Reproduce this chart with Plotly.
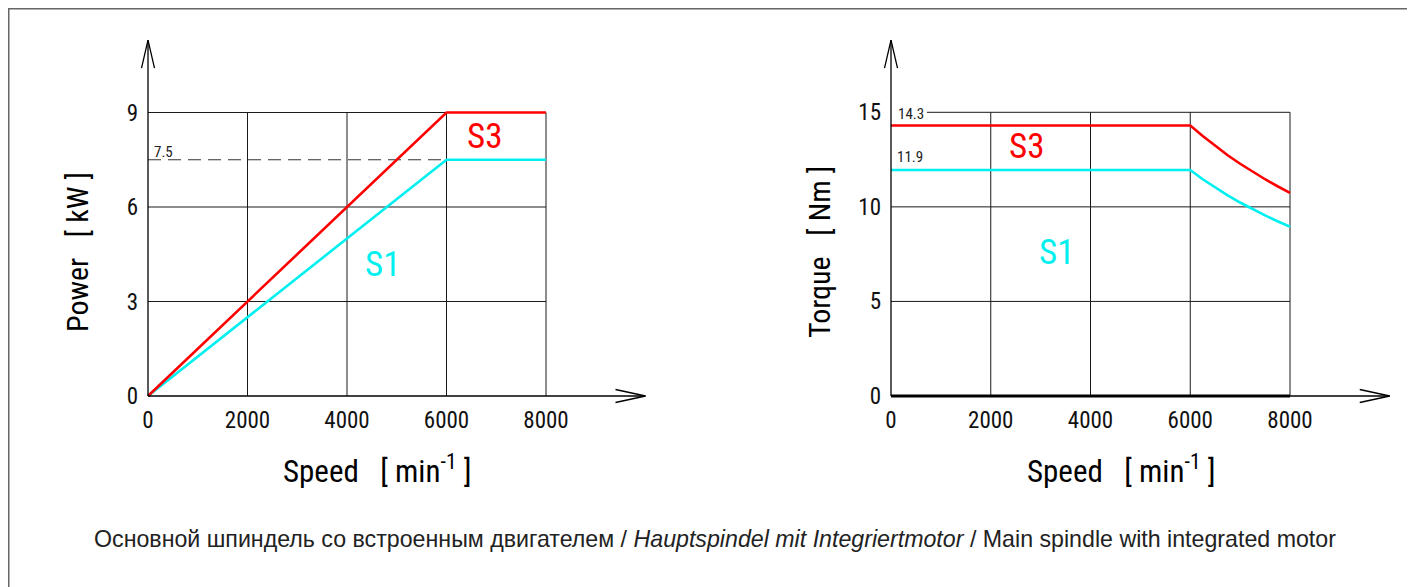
import plotly.graph_objects as go

# ---------------- data ----------------
speed_ticks = [0, 2000, 4000, 6000, 8000]
speed_ticklabels = ["0", "2000", "4000", "6000", "8000"]
speed_arrow = 10000
power_ticks = [0, 3, 6, 9]
power_ticklabels = ["0", "3", "6", "9"]
torque_ticks = [0, 5, 10, 15]
torque_ticklabels = ["0", "5", "10", "15"]

power_speed = [0, 6000, 8000]
power_s3 = [0, 9.0, 9.0]
power_s1 = [0, 7.5, 7.5]
power_s1_rated = 7.5

torque_speed = [0, 6000, 6250, 6500, 6750, 7000, 7250, 7500, 7750, 8000]
torque_s3 = [14.3, 14.3, 13.75, 13.22, 12.73, 12.28, 11.85, 11.46, 11.09, 10.74]
torque_s1 = [11.95, 11.95, 11.46, 11.02, 10.61, 10.23, 9.88, 9.55, 9.24, 8.95]
torque_s3_label = "14.3"
torque_s1_label = "11.9"

caption = ("Основной шпиндель со встроенным двигателем / "
           "<i>Hauptspindel mit Integriertmotor</i> / Main spindle with integrated motor")

# ---------------- style / geometry ----------------
W, H = 1415, 587
OFF = 8  # page offset of the figure inside the browser window
NARROW = "Roboto Condensed, DejaVu Sans Condensed, sans-serif"
REG = "Liberation Sans, Arial, sans-serif"
RED = "#ff0000"
CYAN = "#00f0f0"
GRID = "#1a1a1a"

# screen-pixel mapping of each chart
LEFT = dict(x0=148, kx=398 / 8000, y0=396, ky=283.5 / 9, ytip=11.30)
RIGHT = dict(x0=891, kx=399 / 8000, y0=396, ky=283.7 / 15, ytip=18.82)
BOX_L, BOX_R, BOX_T, BOX_B = 8, 7, 38, 404


def px(x):
    return (x - OFF) / W


def py(y):
    return 1 - (y - OFF) / H


def axes_for(m):
    px_left = m["x0"] - BOX_L
    px_right = m["x0"] + speed_arrow * m["kx"] + BOX_R
    xr = [(px_left - m["x0"]) / m["kx"], (px_right - m["x0"]) / m["kx"]]
    yr = [(m["y0"] - BOX_B) / m["ky"], (m["y0"] - BOX_T) / m["ky"]]
    return [px(px_left), px(px_right)], xr, yr


dxl, xrl, yrl = axes_for(LEFT)
dxr, xrr, yrr = axes_for(RIGHT)
ydom = [py(BOX_B), py(BOX_T)]

fig = go.Figure()
for xa, ya, xs, s1, s3 in (("x", "y", power_speed, power_s1, power_s3),
                           ("x2", "y2", torque_speed, torque_s1, torque_s3)):
    fig.add_trace(go.Scatter(x=xs, y=s1, mode="lines", line=dict(color=CYAN, width=2.6),
                             xaxis=xa, yaxis=ya, showlegend=False, hoverinfo="skip"))
    fig.add_trace(go.Scatter(x=xs, y=s3, mode="lines", line=dict(color=RED, width=2.6),
                             xaxis=xa, yaxis=ya, showlegend=False, hoverinfo="skip"))

shapes = []
for xv in speed_ticks[1:]:
    shapes.append(dict(type="line", xref="x", yref="y", x0=xv, x1=xv, y0=0, y1=power_ticks[-1],
                       line=dict(color=GRID, width=1), layer="below"))
    shapes.append(dict(type="line", xref="x2", yref="y2", x0=xv, x1=xv, y0=0, y1=torque_ticks[-1],
                       line=dict(color=GRID, width=1), layer="below"))
for yv in power_ticks[1:]:
    shapes.append(dict(type="line", xref="x", yref="y", x0=0, x1=speed_ticks[-1], y0=yv, y1=yv,
                       line=dict(color=GRID, width=1), layer="below"))
for yv in torque_ticks[1:]:
    x_start = 720 if yv == torque_ticks[-1] else 0
    shapes.append(dict(type="line", xref="x2", yref="y2", x0=x_start, x1=speed_ticks[-1], y0=yv, y1=yv,
                       line=dict(color=GRID, width=1), layer="below"))
shapes.append(dict(type="line", xref="x", yref="y", x0=0, x1=power_speed[1], y0=power_s1_rated,
                   y1=power_s1_rated, line=dict(color="#333333", width=1, dash="13px,7px"), layer="below"))
shapes.append(dict(type="line", xref="x2", yref="y2", x0=0, x1=speed_ticks[-1], y0=0, y1=0,
                   line=dict(color="black", width=3.2)))
for xr, yr, ytop in (("x", "y", LEFT["ytip"]), ("x2", "y2", RIGHT["ytip"])):
    shapes.append(dict(type="line", xref=xr, yref=yr, x0=0, x1=speed_arrow, y0=0, y1=0,
                       line=dict(color="black", width=1.3)))
    shapes.append(dict(type="line", xref=xr, yref=yr, x0=0, x1=0, y0=0, y1=ytop,
                       line=dict(color="black", width=1.3)))
    shapes.append(dict(type="path", xref=xr, yref=yr, xsizemode="pixel", ysizemode="pixel",
                       xanchor=speed_arrow, yanchor=0, path="M -30,6.5 L 0,0 L -30,-6.5",
                       line=dict(color="black", width=1.3)))
    shapes.append(dict(type="path", xref=xr, yref=yr, xsizemode="pixel", ysizemode="pixel",
                       xanchor=0, yanchor=ytop, path="M -6.5,-28 L 0,0 L 6.5,-28",
                       line=dict(color="black", width=1.3)))
# outer frame (left and top edges)
shapes.append(dict(type="path", xref="paper", yref="paper",
                   path=f"M {px(8.5)},0 L {px(8.5)},{py(8.5)} L 1,{py(8.5)}",
                   line=dict(color="#666666", width=2)))

ann = []


def txt(text, x, y, xref, yref, size, color="black", family=NARROW, angle=0):
    ann.append(dict(text=text, x=x, y=y, xref=xref, yref=yref, showarrow=False,
                    font=dict(size=size, color=color, family=family), textangle=angle,
                    xanchor="center", yanchor="middle"))


txt("7.5", 318, 7.76, "x", "y", 15, "#222222")
txt(torque_s3_label, 395, 14.91, "x2", "y2", 15, "#222222")
txt(torque_s1_label, 380, 12.65, "x2", "y2", 15, "#222222")
txt("S3", 6754, 8.25, "x", "y", 35, RED)
txt("S1", 4704, 4.16, "x", "y", 35, CYAN)
txt("S3", 2707, 13.17, "x2", "y2", 35, RED)
txt("S1", 3328, 7.61, "x2", "y2", 35, CYAN)

NB = "\u00a0"
txt(f"Power{NB*3}[ kW ]", px(77), py(252), "paper", "paper", 30, angle=-90)
txt(f"Torque{NB*3}[ Nm ]", px(819), py(252), "paper", "paper", 30, angle=-90)
spd = f"Speed{NB*3}[ min<sup>-1</sup> ]"
txt(spd, px(377), py(469), "paper", "paper", 31)
txt(spd, px(1121), py(469), "paper", "paper", 31)
txt(caption, px(715), py(539), "paper", "paper", 23.2, "#222222", family=REG)

axis_common = dict(showgrid=False, zeroline=False, showline=False, ticks="", fixedrange=True,
                   automargin=False, tickfont=dict(family=NARROW, size=23, color="#111111"))

fig.update_layout(
    template="none",
    width=W, height=H, margin=dict(l=0, r=0, t=0, b=0, pad=0),
    paper_bgcolor="white", plot_bgcolor="white", showlegend=False,
    xaxis=dict(domain=dxl, range=xrl, anchor="y", tickvals=speed_ticks, ticktext=speed_ticklabels,
               ticklabelstandoff=0, **axis_common),
    yaxis=dict(domain=ydom, range=yrl, anchor="x", tickvals=power_ticks, ticktext=power_ticklabels,
               ticklabelstandoff=1, **axis_common),
    xaxis2=dict(domain=dxr, range=xrr, anchor="y2", tickvals=speed_ticks, ticktext=speed_ticklabels,
                ticklabelstandoff=0, **axis_common),
    yaxis2=dict(domain=ydom, range=yrr, anchor="x2", tickvals=torque_ticks, ticktext=torque_ticklabels,
                ticklabelstandoff=1, **axis_common),
    shapes=shapes, annotations=ann,
)

fig.write_html("out.html")
